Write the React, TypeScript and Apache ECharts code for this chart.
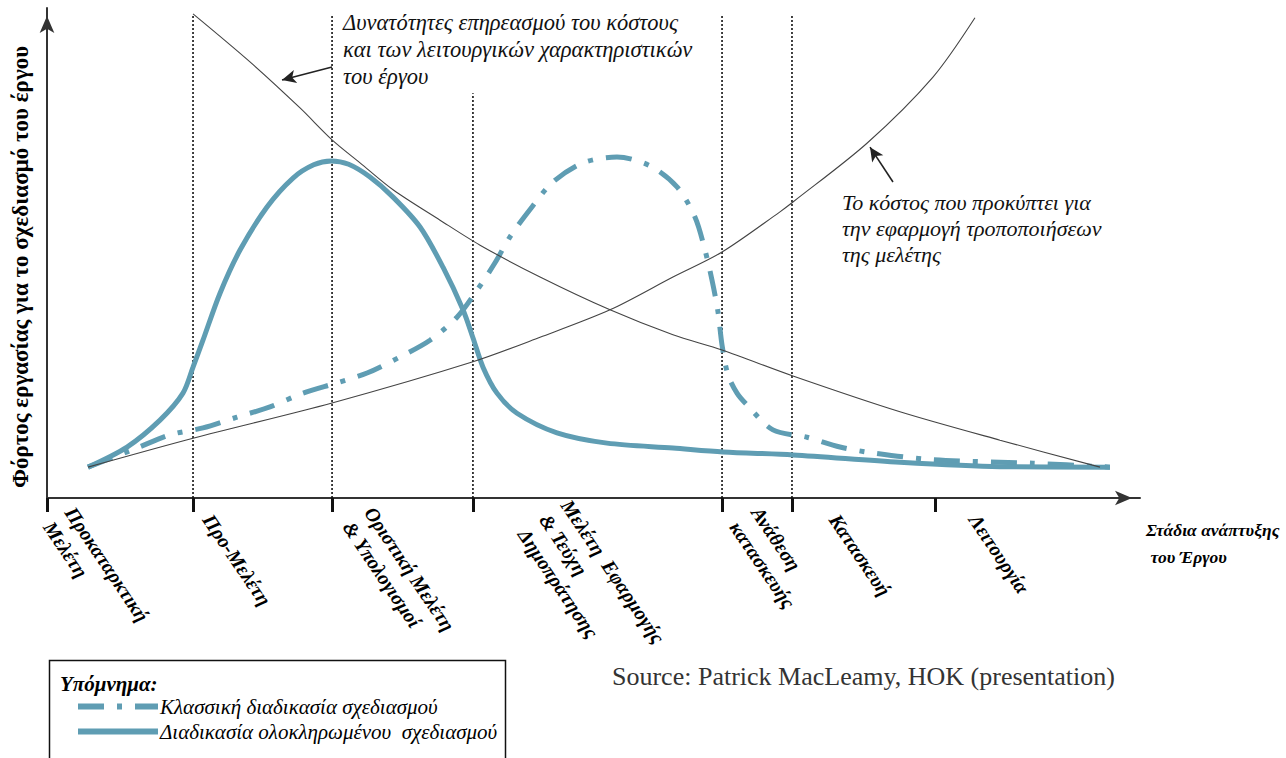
import React, { useEffect, useRef } from "react";
import * as echarts from "echarts";

// Stage (x-axis) categories
const stageNames = [
  "Προκαταρκτική\nΜελέτη",
  "Προ-Μελέτη",
  "Οριστική Μελέτη\n& Υπολογισμοί",
  "Μελέτη  Εφαρμογής\n& Τεύχη\nΔημοπράτησης",
  "Ανάθεση\nκατασκευής",
  "Κατασκευή",
  "Λειτουργία",
];
// tick positions (stage boundaries) on a 0-100 project timeline
const stageBoundaries = [0, 13.36, 26.08, 38.97, 61.76, 68.16, 81.24];
// where each stage label is anchored on the timeline
const stageLabelPositions = [1.1, 14.7, 28.5, 45.5, 63.9, 72.0, 84.8];
// vertical dotted dividers: [x, top]
const dividers: [number, number][] = [
  [13.36, 98.6],
  [26.08, 98.6],
  [38.97, 82.6],
  [61.76, 98.6],
  [68.16, 98.6],
];

const integratedName = "Διαδικασία ολοκληρωμένου  σχεδιασμού";
const classicName = "Κλασσική διαδικασία σχεδιασμού";

// design workload, integrated process
const integratedProcess: [number, number][] = [
  [3.75, 6.3], [7.32, 10.4], [10.34, 15.9], [12.44, 21.4], [13.36, 26.7], [14.27, 32.2],
  [15.83, 41.8], [17.66, 50.6], [20.13, 59.4], [22.51, 65.3], [24.4, 68.0], [26.0, 68.8],
  [27.6, 68.1], [29.55, 65.5], [31.66, 61.4], [34.13, 55.3], [36.23, 47.1], [38.06, 38.4],
  [38.97, 32.7], [39.89, 26.7], [41.17, 21.4], [43.0, 17.3], [46.66, 13.3], [51.24, 11.2],
  [57.27, 10.2], [61.85, 9.4], [68.25, 8.8], [78.04, 7.3], [87.19, 6.4], [97.25, 6.3],
];

// design workload, classic process
const classicProcess: [number, number][] = [
  [3.75, 6.3], [8.23, 10.2], [11.25, 12.9], [14.27, 14.3], [17.38, 16.5], [20.4, 18.6],
  [23.42, 21.4], [26.53, 23.5], [29.28, 25.5], [32.3, 28.8], [35.04, 32.2], [37.51, 36.9],
  [39.34, 42.4], [40.99, 48.0], [42.36, 53.3], [44.37, 59.4], [46.29, 64.5], [49.04, 68.4],
  [52.15, 69.6], [55.17, 67.8], [57.64, 63.5], [59.29, 57.3], [60.2, 50.6], [60.84, 44.5],
  [61.39, 38.0], [61.76, 31.2], [62.31, 25.1], [63.13, 21.4], [64.04, 19.0], [66.42, 13.9],
  [69.53, 12.4], [72.55, 10.4], [75.57, 9.2], [81.06, 7.8], [90.21, 7.1], [97.25, 6.3],
];

// cost of design changes (rising)
const changeCost: [number, number][] = [
  [3.75, 6.3], [13.36, 12.2], [26.08, 19.4], [38.97, 27.8], [45.11, 32.8], [51.51, 38.4],
  [57.27, 45.1], [61.76, 50.2], [67.06, 58.4], [68.25, 60.4], [75.02, 72.4], [81.06, 85.9],
  [84.9, 98.0],
];

// ability to influence cost & functionality (falling)
const influence: [number, number][] = [
  [13.36, 98.8], [18.57, 89.0], [23.15, 79.6], [26.08, 73.1], [28.64, 68.4], [31.66, 62.9],
  [35.96, 56.7], [39.62, 51.6], [45.11, 45.1], [51.51, 38.4], [57.27, 33.3], [61.76, 30.2],
  [68.25, 24.9], [78.04, 17.6], [87.19, 11.8], [96.34, 6.3],
];

const serif = "'Liberation Serif', 'DejaVu Serif', serif";
const blue = "#5f9db3";

export default function App() {
  const ref = useRef<HTMLDivElement>(null);
  useEffect(() => {
    const chart = echarts.init(ref.current!, null, { renderer: "svg" });
    const dividerSeries = dividers.map(([x, top]) => ({
      type: "line",
      silent: true,
      symbol: "none",
      data: [[x, 0], [x, top]],
      lineStyle: { color: "#111", width: 1.6, type: [2, 2] },
      z: 1,
    }));
    const option: any = {
      animation: false,
      backgroundColor: "#ffffff",
      grid: { left: 47, right: 146, top: 8, bottom: 260 },
      xAxis: {
        type: "value",
        min: 0,
        max: 100,
        splitLine: { show: false },
        axisLine: {
          show: true,
          lineStyle: { color: "#333", width: 2 },
          symbol: ["none", "arrow"],
          symbolSize: [11, 17],
          symbolOffset: [0, -8],
        },
        axisTick: {
          show: true,
          customValues: stageBoundaries,
          length: 14,
          lineStyle: { color: "#111", width: 3 },
        },
        axisLabel: {
          show: true,
          customValues: stageLabelPositions,
          formatter: (v: number) => {
            const i = stageLabelPositions.findIndex((p) => Math.abs(p - v) < 1e-6);
            return i >= 0 ? stageNames[i] : "";
          },
          rotate: -56,
          margin: 18,
          fontFamily: serif,
          fontWeight: "bold",
          fontStyle: "italic",
          fontSize: 20,
          lineHeight: 26,
          color: "#000",
        },
      },
      yAxis: {
        type: "value",
        min: 0,
        max: 100,
        splitLine: { show: false },
        axisTick: { show: false },
        axisLabel: { show: false },
        axisLine: {
          show: true,
          lineStyle: { color: "#333", width: 2 },
          symbol: ["none", "arrow"],
          symbolSize: [11, 17],
          symbolOffset: [0, -8],
        },
      },
      legend: {
        data: [classicName, integratedName],
        orient: "vertical",
        left: 75,
        top: 696,
        padding: 0,
        itemWidth: 80,
        itemHeight: 12,
        itemGap: 4,
        itemStyle: { opacity: 0, color: "rgba(0,0,0,0)", borderWidth: 0 },
        lineStyle: { width: 6 },
        textStyle: {
          fontFamily: serif,
          fontStyle: "italic",
          fontSize: 21,
          lineHeight: 21,
          color: "#000",
          padding: [0, 0, 0, -3],
        },
      },
      graphic: [
        {
          type: "rect",
          shape: { x: 49.5, y: 660.5, width: 456, height: 130 },
          style: { fill: "#fff", stroke: "#111", lineWidth: 1.5 },
          z: -1,
        },
        {
          type: "text",
          x: 60,
          y: 684,
          style: {
            text: "Υπόμνημα:",
            fontFamily: serif,
            fontWeight: "bold",
            fontStyle: "italic",
            fontSize: 21,
            fill: "#000",
            verticalAlign: "middle",
          },
        },
        {
          type: "text",
          x: 20,
          y: 267,
          rotation: Math.PI / 2,
          style: {
            text: "Φόρτος εργασίας για το σχεδιασμό του έργου",
            fontFamily: serif,
            fontWeight: "bold",
            fontSize: 23,
            fill: "#000",
            align: "center",
            verticalAlign: "middle",
          },
        },
        {
          type: "text",
          x: 1146,
          y: 516,
          style: {
            text: "Στάδια ανάπτυξης\n του Έργου",
            fontFamily: serif,
            fontWeight: "bold",
            fontStyle: "italic",
            fontSize: 17.5,
            lineHeight: 27,
            fill: "#000",
          },
        },
        {
          type: "text",
          x: 343,
          y: 9,
          style: {
            text: "Δυνατότητες επηρεασμού του κόστους\nκαι των λειτουργικών χαρακτηριστικών\nτου έργου",
            fontFamily: serif,
            fontStyle: "italic",
            fontSize: 22.5,
            lineHeight: 27,
            fill: "#111",
          },
        },
        {
          type: "text",
          x: 842,
          y: 189,
          style: {
            text: "Το κόστος που προκύπτει για\nτην εφαρμογή τροποποιήσεων\nτης μελέτης",
            fontFamily: serif,
            fontStyle: "italic",
            fontSize: 22,
            lineHeight: 26,
            fill: "#111",
          },
        },
        {
          type: "text",
          x: 612,
          y: 676,
          style: {
            text: "Source: Patrick MacLeamy, HOK (presentation)",
            fontFamily: serif,
            fontSize: 26,
            fill: "#333",
            verticalAlign: "middle",
          },
        },
      ],
      series: [
        ...dividerSeries,
        {
          name: classicName,
          type: "line",
          data: classicProcess,
          symbol: "none",
          smooth: 0.3,
          lineStyle: { color: blue, width: 5, type: [26, 13, 5, 13], cap: "butt" },
          itemStyle: { color: blue },
          z: 3,
        },
        {
          name: integratedName,
          type: "line",
          data: integratedProcess,
          symbol: "none",
          smooth: 0.3,
          lineStyle: { color: blue, width: 5 },
          itemStyle: { color: blue },
          z: 3,
        },
        {
          name: "influence",
          type: "line",
          data: influence,
          symbol: "none",
          smooth: 0.3,
          lineStyle: { color: "#444", width: 1.1 },
          z: 4,
          markLine: {
            silent: true,
            symbol: ["none", "arrow"],
            symbolSize: [10, 14],
            label: { show: false },
            lineStyle: { color: "#222", width: 1.6, type: "solid" },
            data: [[{ coord: [26.08, 87.96] }, { coord: [21.5, 85.3] }]],
          },
        },
        {
          name: "changeCost",
          type: "line",
          data: changeCost,
          symbol: "none",
          smooth: 0.3,
          lineStyle: { color: "#444", width: 1.1 },
          z: 4,
          markLine: {
            silent: true,
            symbol: ["none", "arrow"],
            symbolSize: [10, 14],
            label: { show: false },
            lineStyle: { color: "#222", width: 1.6, type: "solid" },
            data: [[{ coord: [77.4, 64.5] }, { coord: [75.3, 71.6] }]],
          },
        },
      ],
    };
    chart.setOption(option);
    return () => chart.dispose();
  }, []);
  return (
    <div
      ref={ref}
      style={{ position: "fixed", left: 0, top: 0, width: 1286, height: 758, background: "#fff" }}
    />
  );
}
